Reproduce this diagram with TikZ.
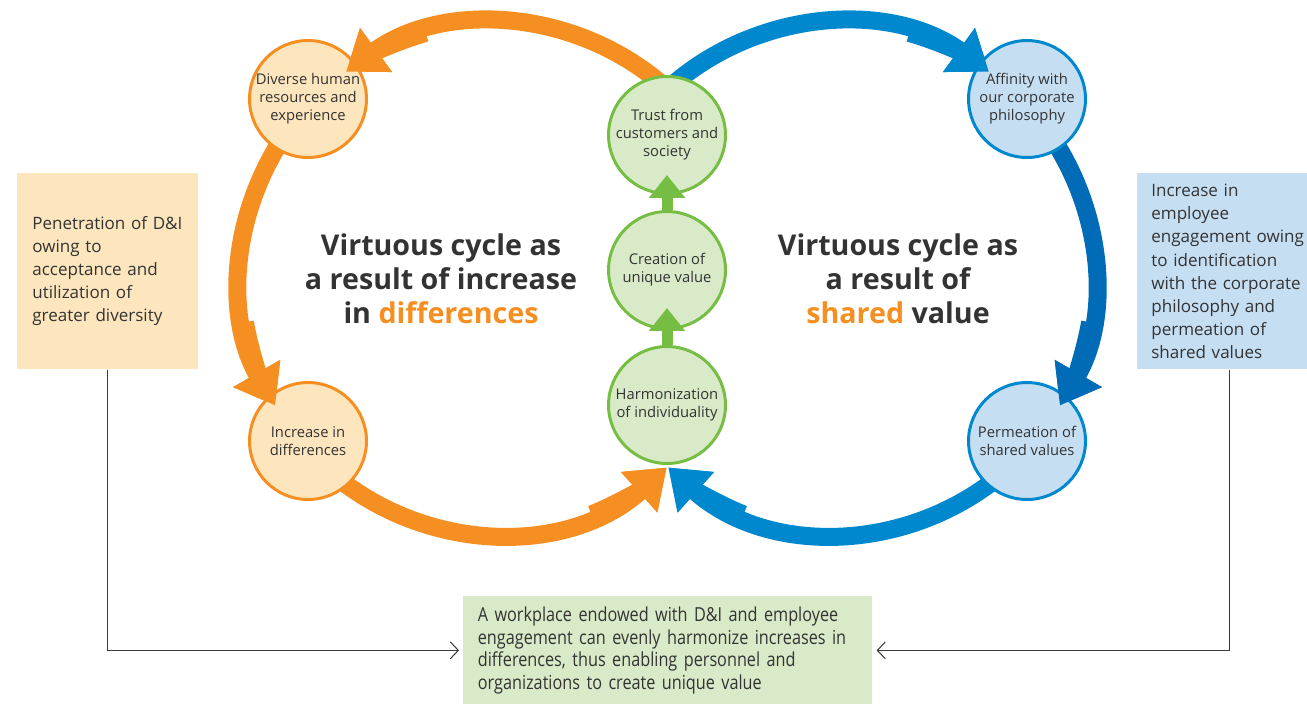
\documentclass[tikz,border=0pt]{standalone}
\usepackage{fontspec}
\setmainfont{Open Sans}
\newfontfamily\condfont[FakeStretch=0.84]{Open Sans}
\usetikzlibrary{arrows.meta}

\definecolor{cycorange}{RGB}{245,143,33}
\definecolor{cycblue}{RGB}{0,136,206}
\definecolor{cycdblue}{RGB}{0,108,184}
\definecolor{cycgreen}{RGB}{118,190,67}
\definecolor{orangefill}{RGB}{253,230,190}
\definecolor{bluefill}{RGB}{198,222,242}
\definecolor{greenfill}{RGB}{217,234,200}
\definecolor{txtgray}{RGB}{51,51,51}
\definecolor{linegray}{RGB}{60,60,60}

\begin{document}
\begin{tikzpicture}[
    x=0.02cm, y=-0.02cm,
    font=\fontsize{8.4}{10.2}\selectfont,
    text=txtgray,
    dot/.style={circle, line width=1.7pt, minimum size=2.34cm, inner sep=0pt, align=center},
    diff/.style={dot, draw=cycorange, fill=orangefill},
    core/.style={dot, draw=cycgreen, fill=greenfill},
    share/.style={dot, draw=cycblue, fill=bluefill},
    note/.style={rectangle, inner xsep=0.3cm, inner ysep=0pt, align=left, font=\fontsize{9.7}{13.1}\selectfont},
    title/.style={align=center, font=\fontsize{16.3}{19.4}\selectfont\bfseries},
    cycarc/.style={line width=0.36cm, draw=#1, -{Triangle[width=1.04cm, length=0.74cm]}},
    uparrow/.style={line width=0.22cm, draw=cycgreen, -{Triangle[width=0.7cm, length=0.46cm]}},
    link/.style={draw=linegray, line width=0.6pt, shorten >=0.08cm, -{Straight Barb[length=0.16cm, width=0.34cm]}}
]
    \useasboundingbox (0,0) rectangle (1307,704);

    \coordinate (lc) at (496,278);
    \coordinate (rc) at (839,278);

    % the two loops, under the circles
    \foreach \c/\a/\m/\b/\col in {lc/312/254/234/cycorange, lc/220/170/150/cycorange, lc/138/68/48/cycorange,
                                 rc/228/286/306/cycblue, rc/-40/10/30/cycdblue, rc/42/112/132/cycblue}
        \draw[cycarc=\col] (\c) ++(\a:255) arc[start angle=\a, end angle=\b, radius=255];

    \node [diff] (diverse) at (308,99) {Diverse human\\resources and\\experience};
    \node [diff] (increase) at (308,441) {Increase in\\differences};
    \node [core] (trust) at (667,135) {Trust from\\customers and\\society};
    \node [core] (creation) at (667,270) {Creation of\\unique value};
    \node [core] (harmon) at (667,405) {Harmonization\\of individuality};
    \node [share] (affinity) at (1027,99) {Affinity with\\our corporate\\philosophy};
    \node [share] (permeation) at (1027,441) {Permeation of\\shared values};

    % arrow heads again, over the circles
    \foreach \c/\a/\m/\b/\col in {lc/312/254/234/cycorange, lc/220/170/150/cycorange, lc/138/68/48/cycorange,
                                 rc/228/286/306/cycblue, rc/-40/10/30/cycdblue, rc/42/112/132/cycblue}
        \draw[cycarc=\col] (\c) ++(\m:255) arc[start angle=\m, end angle=\b, radius=255];

    \draw [uparrow] (harmon.north) -- ([yshift=0.44cm]creation.south);
    \draw [uparrow] (creation.north) -- ([yshift=0.4cm]trust.south);

    \node [title] (ltitle) at (441,279) {Virtuous cycle as\\a result of increase\\in \textcolor{cycorange}{differences}};
    \node [title] (rtitle) at (898,279) {Virtuous cycle as\\a result of\\\textcolor{cycorange}{shared} value};

    \node [note, fill=orangefill, text width=3.02cm, minimum height=3.92cm, anchor=north west] (dibox) at (17,173)
        {Penetration of D\&I\\owing to\\acceptance and\\utilization of\\greater diversity};
    \node [note, fill=bluefill, inner xsep=0.28cm, text width=3.2cm, minimum height=3.92cm, anchor=north west] (engbox) at (1137,173)
        {Increase in\\employee\\engagement owing\\to identification\\with the corporate\\philosophy and\\permeation of\\shared values};
    \node [note, fill=greenfill, inner xsep=0.29cm, text width=7.6cm, minimum height=2.16cm, anchor=north west,
           font=\condfont\fontsize{11}{12.9}\selectfont] (work) at (463,596)
        {A workplace endowed with D\&I and employee\\engagement can evenly harmonize increases in\\differences, thus enabling personnel and\\organizations to create unique value};

    \draw [link] (dibox.south) |- (work.west);
    \draw [link] ([xshift=-0.04cm]engbox.south) |- (work.east);

\end{tikzpicture}
\end{document}
